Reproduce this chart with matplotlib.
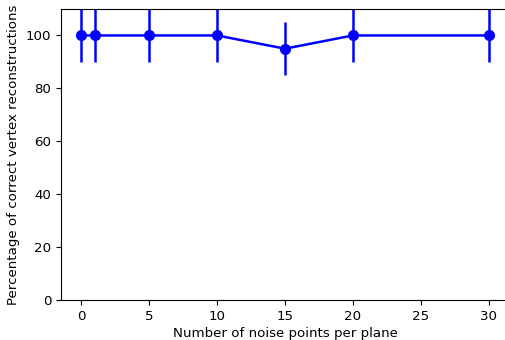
import matplotlib
matplotlib.use("Agg")
import matplotlib.pyplot as plt

noise = [0, 1, 5, 10, 15, 20, 30]
pct = [100, 100, 100, 100, 95, 100, 100]
err = [10, 10, 10, 10, 10, 10, 10]

plt.rcParams['font.size'] = 9.6
fig = plt.figure(figsize=(5.05, 3.4), dpi=100)
ax = fig.add_axes([61/505, 40/340, 448/505, 291/340])
ax.errorbar(noise, pct, yerr=err, color='blue', marker='o', linewidth=1.8, markersize=7)
ax.set_ylim(0, 110)
ax.set_xlim(-1.5, 31.5)
ax.spines['right'].set_visible(False)
ax.set_xlabel("Number of noise points per plane", labelpad=3)
ax.set_ylabel("Percentage of correct vertex reconstructions")
fig.savefig("out.png", dpi=100)
